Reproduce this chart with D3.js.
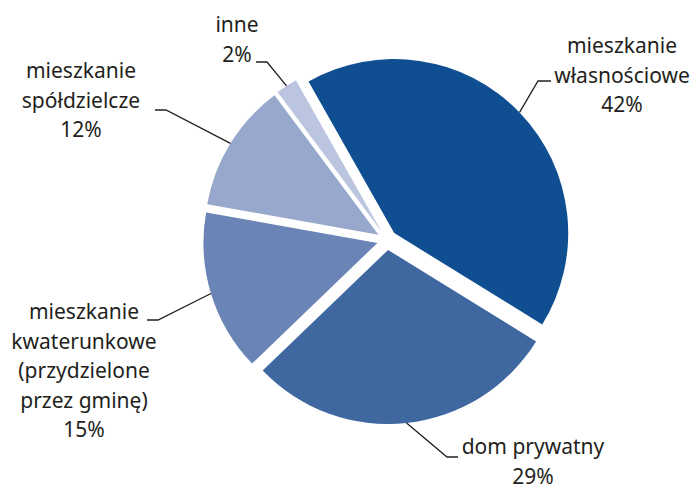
<!DOCTYPE html>
<html>
<head>
<meta charset="utf-8">
<script src="https://cdn.jsdelivr.net/npm/d3@7"></script>
<style>
  html, body { margin: 0; padding: 0; background: #ffffff; }
  svg { display: block; }
  text { font-family: "Noto Sans", sans-serif; font-size: 21px; fill: #231f20; }
</style>
</head>
<body>
<svg id="chart" width="694" height="488"></svg>
<script>
// Struktura zamieszkania – udziały procentowe
const categories = [
  "inne",
  "mieszkanie własnościowe",
  "dom prywatny",
  "mieszkanie kwaterunkowe (przydzielone przez gminę)",
  "mieszkanie spółdzielcze"
];
const shares = [2, 42, 29, 15, 12];
const labelLines = [
  ["inne", "2%"],
  ["mieszkanie", "własnościowe", "42%"],
  ["dom prywatny", "29%"],
  ["mieszkanie", "kwaterunkowe", "(przydzielone", "przez gminę)", "15%"],
  ["mieszkanie", "spółdzielcze", "12%"]
];
const colors = ["#bcc5e0", "#0f4f91", "#3f67a0", "#6a84b5", "#98a8cc"];

// Layout of the pie and its callouts
const cx = 387, cy = 240, radius = 174, explode = 10;
const startDeg = -36.7;
const lineHeight = 29.5;
// label anchor (centre x, first baseline y), leader elbow and leader end
const callouts = [
  { x: 237, y: 32,  elbow: [267, 62],  end: [256, 62] },
  { x: 622, y: 53,  elbow: [538, 81],  end: [551, 81] },
  { x: 533, y: 454, elbow: [447, 457], end: [458, 457] },
  { x: 84,  y: 319, elbow: [158, 320], end: [147, 320] },
  { x: 81,  y: 78,  elbow: [166, 110], end: [155, 110] }
];

const svg = d3.select("#chart");
const rad = Math.PI / 180;

const pie = d3.pie()
  .sort(null)
  .value(d => d)
  .startAngle(startDeg * rad)
  .endAngle((startDeg + 360) * rad);

const arcs = pie(shares);
const arc = d3.arc().innerRadius(0).outerRadius(radius);

const g = svg.append("g").attr("transform", `translate(${cx},${cy})`);

function offsetOf(d) {
  const mid = (d.startAngle + d.endAngle) / 2;
  return [Math.sin(mid) * explode, -Math.cos(mid) * explode];
}

g.selectAll("path.slice")
  .data(arcs)
  .join("path")
  .attr("class", "slice")
  .attr("d", arc)
  .attr("fill", (d, i) => colors[i])
  .attr("transform", d => {
    const [ox, oy] = offsetOf(d);
    return `translate(${ox},${oy})`;
  });

// Leader lines from the outer edge of each slice to its label
const leaders = svg.append("g")
  .attr("fill", "none")
  .attr("stroke", "#231f20")
  .attr("stroke-width", 1.3);

arcs.forEach((d, i) => {
  const mid = (d.startAngle + d.endAngle) / 2;
  const [ox, oy] = offsetOf(d);
  const p0 = [cx + ox + Math.sin(mid) * radius, cy + oy - Math.cos(mid) * radius];
  const c = callouts[i];
  leaders.append("path")
    .attr("d", d3.line()([p0, c.elbow, c.end]));
});

// Labels
const labels = svg.append("g").attr("text-anchor", "middle");
labelLines.forEach((lines, i) => {
  const c = callouts[i];
  const t = labels.append("text").attr("x", c.x).attr("y", c.y);
  lines.forEach((ln, k) => {
    t.append("tspan")
      .attr("x", c.x)
      .attr("y", c.y + k * lineHeight)
      .text(ln);
  });
});
</script>
</body>
</html>
